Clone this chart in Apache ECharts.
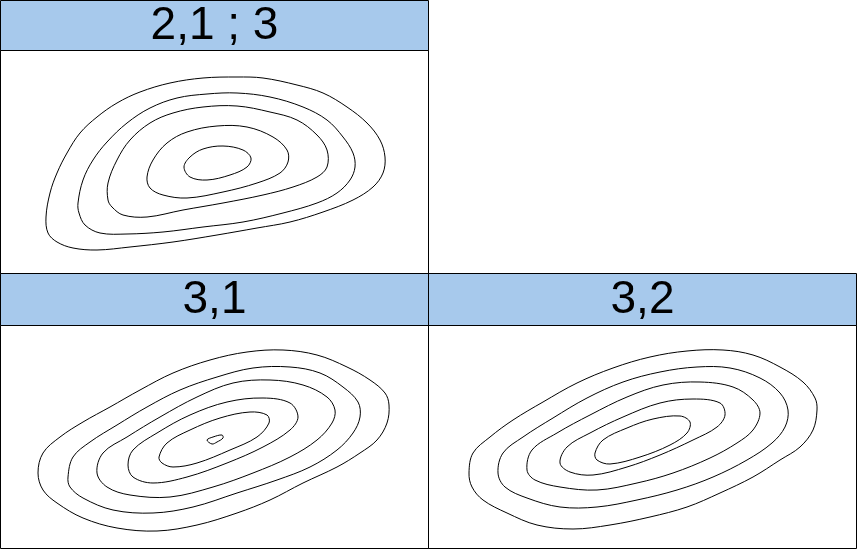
<!DOCTYPE html>
<html>
<head>
<meta charset="utf-8">
<script src="https://cdn.jsdelivr.net/npm/echarts@6/dist/echarts.min.js"></script>
<style>html,body{margin:0;padding:0;background:#fff;}#c{width:858px;height:550px;}</style>
</head>
<body>
<div id="c"></div>
<script>
// Panel titles
const panelTitles = ['2,1 ; 3', '3,1', '3,2'];

// Contour lines (panel-local units: x to the right, y downward from header bottom)
// Panel "2,1 ; 3"
const a1 = [[46,167],[50,143],[57,123],[67,103],[80,83],[97,67],[117,53],[140,42],[170,33],[203,28],[237,27],[263,28],[297,35],[323,43],[347,57],[367,73],[380,90],[385,107],[383,123],[373,137],[353,150],[323,162],[290,172],[257,178],[217,185],[173,192],[130,197],[97,200],[73,198],[57,192],[48,183]];
const a2 = [[78,153],[83,130],[93,110],[107,92],[127,73],[150,58],[177,48],[207,44],[237,43],[270,47],[303,57],[327,70],[343,87],[353,103],[355,117],[350,130],[337,143],[317,153],[283,163],[243,172],[203,177],[163,182],[127,184],[100,183],[85,175],[79,163]];
const a3 = [[108,150],[108,133],[117,110],[130,90],[150,73],[173,63],[203,57],[237,56],[270,62],[297,70],[317,85],[327,100],[327,117],[317,127],[293,137],[263,145],[223,153],[183,160],[147,167],[123,165],[112,157]];
const a4 = [[147,127],[153,110],[167,93],[187,82],[217,76],[247,77],[273,87],[287,100],[288,112],[280,123],[257,133],[223,142],[187,148],[163,145],[150,138]];
const a5 = [[184,117],[190,107],[203,99],[223,96],[243,100],[251,108],[247,117],[230,125],[207,130],[190,127]];

// Panel "3,1"
const b1 = [[38,148],[43,128],[60,112],[83,97],[110,82],[140,65],[173,48],[210,35],[247,27],[283,25],[317,30],[347,42],[370,55],[385,68],[389,80],[387,98],[377,115],[360,128],[337,142],[303,158],[270,175],[237,188],[197,200],[157,206],[117,203],[83,193],[57,178],[43,165]];
const b2 = [[68,152],[73,132],[90,117],[117,100],[147,82],[180,65],[217,52],[253,43],[290,42],[320,48],[343,62],[358,77],[360,92],[353,108],[337,125],[310,142],[277,155],[237,168],[193,182],[153,188],[113,185],[83,173],[70,162]];
const b3 = [[97,148],[103,128],[127,112],[160,92],[197,72],[233,58],[270,55],[303,60],[327,72],[335,85],[332,98],[317,115],[290,132],[253,148],[213,162],[170,172],[130,170],[107,162]];
const b4 = [[128,140],[133,125],[157,108],[190,90],[227,77],[263,73],[290,78],[298,92],[290,105],[263,122],[227,138],[187,152],[153,158],[133,152]];
const b5 = [[159,132],[167,118],[190,105],[220,93],[250,87],[267,90],[269,98],[257,112],[230,125],[197,138],[173,142],[162,138]];
const b6 = [[207,115],[213,112],[222,110],[223,113],[217,117],[212,119]];

// Panel "3,2"
const c1 = [[41,148],[45,128],[62,112],[85,95],[115,77],[149,58],[185,43],[222,32],[259,26],[295,25],[325,30],[352,42],[375,57],[387,73],[389,85],[385,105],[372,122],[352,135],[325,152],[292,168],[259,182],[222,192],[182,200],[145,204],[109,200],[79,188],[55,175],[44,162]];
const c2 = [[70,148],[75,128],[95,112],[125,93],[159,73],[195,57],[232,47],[269,42],[302,43],[332,53],[352,68],[360,85],[357,102],[344,118],[319,135],[285,152],[249,165],[209,175],[169,182],[132,182],[99,173],[77,162]];
const c3 = [[99,145],[104,125],[129,108],[162,90],[199,72],[235,60],[272,57],[305,62],[325,75],[332,88],[325,105],[309,118],[282,133],[245,148],[209,158],[169,165],[132,162],[107,155]];
const c4 = [[132,138],[139,122],[162,108],[195,92],[232,78],[265,74],[292,78],[297,90],[289,102],[265,115],[232,130],[199,142],[165,150],[142,147]];
const c5 = [[167,128],[175,115],[199,103],[225,94],[252,91],[262,97],[259,108],[242,120],[212,132],[182,139],[169,135]];

const panelContours = [[a1,a2,a3,a4,a5],[b1,b2,b3,b4,b5,b6],[c1,c2,c3,c4,c5]];

const HEADER_BLUE = '#a7c9ec';
const grids = [
  {left:0, top:50, width:428, height:223},
  {left:0, top:325, width:428, height:223},
  {left:428, top:325, width:428, height:223}
];
const headers = [
  {x:0.5, y:0.5, w:428, h:50},
  {x:0.5, y:273.5, w:428, h:52},
  {x:428.5, y:273.5, w:428, h:52}
];
const bodies = [
  {x:0.5, y:50.5, w:428, h:223},
  {x:0.5, y:325.5, w:428, h:223},
  {x:428.5, y:325.5, w:428, h:223}
];

const xAxis = grids.map((g,i)=>({type:'value', gridIndex:i, min:0, max:428, show:false}));
const yAxis = grids.map((g,i)=>({type:'value', gridIndex:i, min:0, max:223, inverse:true, show:false}));

const series = panelContours.map((cs, pi)=>({
  type:'custom', xAxisIndex:pi, yAxisIndex:pi,
  data: cs.map((c, ci)=>[ci, 0]),
  silent:true, animation:false, clip:false,
  renderItem: function(params, api){
    const contour = cs[api.value(0)];
    const pts = contour.map(p=>api.coord(p));
    return {
      type:'polygon',
      shape:{points:pts, smooth:0.35},
      style:{fill:'none', stroke:'#000', lineWidth:1}
    };
  }
}));

const graphic = [];
headers.forEach((h,i)=>{
  graphic.push({type:'rect', shape:{x:h.x,y:h.y,width:h.w,height:h.h}, style:{fill:HEADER_BLUE, stroke:'#000', lineWidth:1}, z:0});
  graphic.push({type:'text', x:h.x + h.w/2, y:h.y + h.h/2 + 0.5, style:{text:panelTitles[i], fill:'#000', font:'46px "Liberation Sans", Arial, sans-serif', textAlign:'center', textVerticalAlign:'middle'}, z:2});
});
bodies.forEach(b=>{
  graphic.push({type:'rect', shape:{x:b.x,y:b.y,width:b.w,height:b.h}, style:{fill:'none', stroke:'#000', lineWidth:1}, z:1});
});

const chart = echarts.init(document.getElementById('c'), null, {renderer:'canvas'});
chart.setOption({
  backgroundColor:'#fff',
  animation:false,
  grid: grids.map(g=>Object.assign({containLabel:false, show:false}, g)),
  xAxis, yAxis, series, graphic
});
</script>
</body>
</html>
